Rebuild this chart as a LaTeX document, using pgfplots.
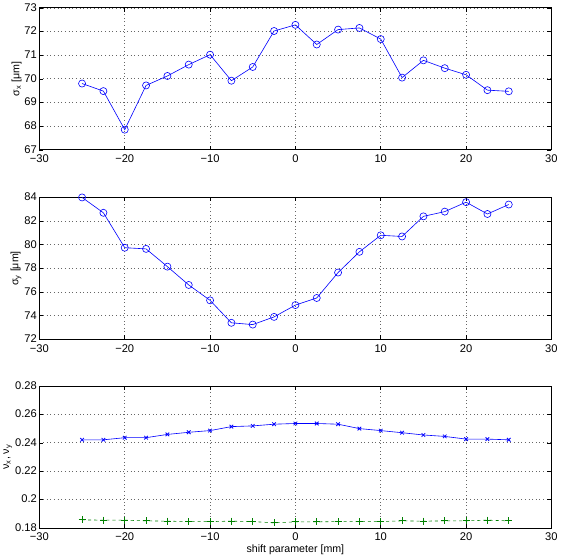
\documentclass[border=0pt]{standalone}
\usepackage{fontspec}
\setmainfont{Liberation Sans}
\usepackage{pgfplots}
\pgfplotsset{compat=1.18}

\pgfplotsset{
  mlab/.style={
    width=505pt, height=140pt, scale only axis,
    xmin=-30, xmax=30,
    xtick={-30,-20,...,30},
    xticklabels={−30,−20,−10,0,10,20,30},
    tick align=inside, major tick length=4pt,
    tick style={black, line width=0.5pt},
    axis line style={line width=0.8pt},
    grid=major, major grid style={black!60, line width=0.6pt, dash pattern=on 0.6pt off 3pt},
    tick label style={font=\fontsize{11}{12}\selectfont},
    xticklabel style={yshift=-1.5pt},
    yticklabel style={xshift=1pt, yshift=0.5pt},
    label style={font=\fontsize{10.5}{12}\selectfont},
    /pgf/number format/assume math mode=true,
    ylabel shift=-4pt,
  },
}

\begin{document}
\begin{tikzpicture}
\begin{axis}[mlab,
  ymin=67, ymax=73, ytick={67,...,73},
  ylabel={σ\textsubscript{x} [μm]},
]
\addplot[blue, line width=0.6pt, mark=o, mark size=3.5pt, mark options={line width=0.6pt}] coordinates {
 (-25,69.80) (-22.5,69.48) (-20,67.85) (-17.5,69.72) (-15,70.12) (-12.5,70.60)
 (-10,71.02) (-7.5,69.92) (-5,70.50) (-2.5,72.02) (0,72.28) (2.5,71.45)
 (5,72.08) (7.5,72.15) (10,71.68) (12.5,70.05) (15,70.78) (17.5,70.45)
 (20,70.17) (22.5,69.52) (25,69.47)
};
\end{axis}

\begin{axis}[mlab, at={(0,-187pt)},
  ymin=72, ymax=84, ytick={72,74,...,84},
  ylabel={σ\textsubscript{y} [μm]},
]
\addplot[blue, line width=0.6pt, mark=o, mark size=3.5pt, mark options={line width=0.6pt}] coordinates {
 (-25,84.00) (-22.5,82.70) (-20,79.75) (-17.5,79.65) (-15,78.15) (-12.5,76.60)
 (-10,75.30) (-7.5,73.40) (-5,73.25) (-2.5,73.90) (0,74.90) (2.5,75.50)
 (5,77.65) (7.5,79.40) (10,80.80) (12.5,80.70) (15,82.40) (17.5,82.80)
 (20,83.60) (22.5,82.60) (25,83.40)
};
\end{axis}

\begin{axis}[mlab, at={(0,-373pt)},
  ymin=0.18, ymax=0.28, ytick={0.18,0.20,...,0.28},
  yticklabels={0.18,0.2,0.22,0.24,0.26,0.28},
  ylabel={ν\textsubscript{x}, ν\textsubscript{y}},
  xlabel={shift parameter [mm]},
  xlabel shift=-3pt,
]
\addplot[blue, line width=0.6pt, mark=x, mark size=2.5pt, mark options={line width=0.8pt}] coordinates {
 (-25,0.2421) (-22.5,0.2421) (-20,0.2436) (-17.5,0.2436) (-15,0.2459) (-12.5,0.2474)
 (-10,0.2486) (-7.5,0.2514) (-5,0.2519) (-2.5,0.2531) (0,0.2536) (2.5,0.2536)
 (5,0.2531) (7.5,0.2500) (10,0.2486) (12.5,0.2471) (15,0.2455) (17.5,0.2445)
 (20,0.2426) (22.5,0.2426) (25,0.2421)
};
\addplot[green!50!black, line width=0.6pt, dashed, mark=+, mark size=3.5pt, mark options={solid, line width=0.8pt}] coordinates {
 (-25,0.1857) (-22.5,0.1855) (-20,0.1855) (-17.5,0.1850) (-15,0.1848) (-12.5,0.1845)
 (-10,0.1845) (-7.5,0.1848) (-5,0.1845) (-2.5,0.1836) (0,0.1843) (2.5,0.1843)
 (5,0.1845) (7.5,0.1845) (10,0.1845) (12.5,0.1850) (15,0.1848) (17.5,0.1850)
 (20,0.1850) (22.5,0.1855) (25,0.1850)
};
\end{axis}
\end{tikzpicture}
\end{document}
